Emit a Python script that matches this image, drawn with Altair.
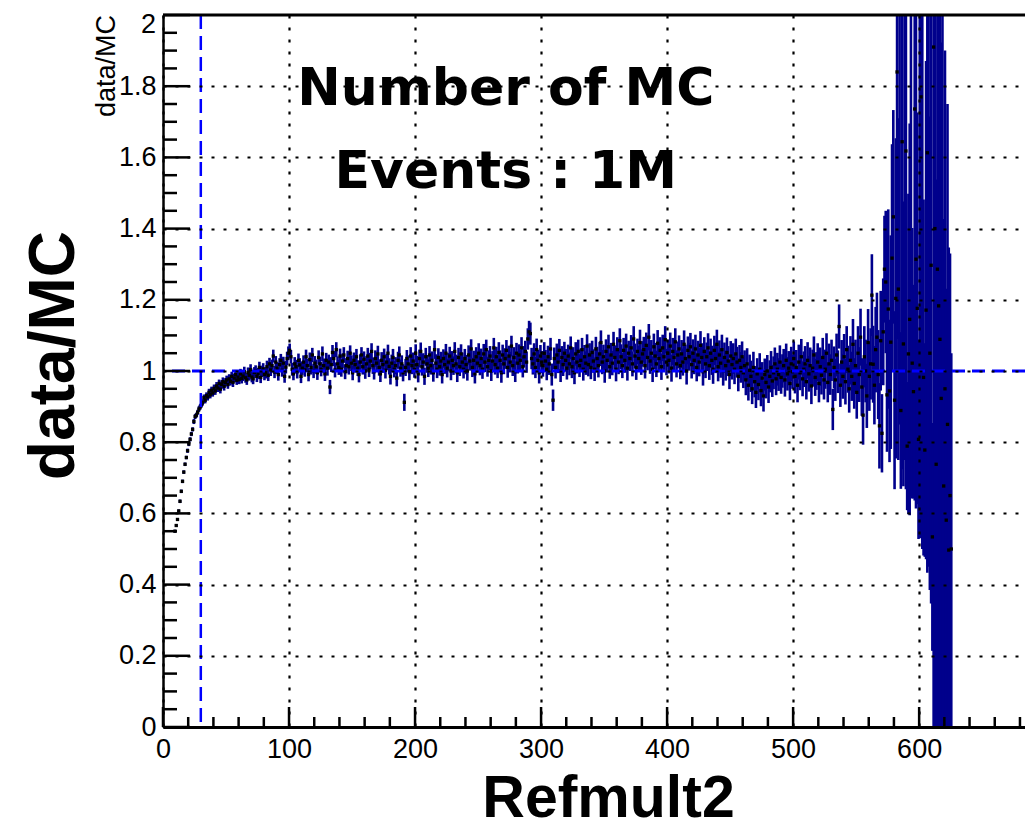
import altair as alt
import pandas as pd

# ---------------- data ----------------
first_bin = 9  # first filled Refmult2 bin (bin width 1)

ratio = [
    # 9-20
    0.550, 0.566, 0.583, 0.607, 0.634, 0.662, 0.690, 0.716, 0.738, 0.757, 0.776, 0.795,
    # 21-30
    0.808, 0.823, 0.836, 0.858, 0.872, 0.876, 0.884, 0.893, 0.899, 0.905,
    # 31-40
    0.912, 0.925, 0.918, 0.931, 0.927, 0.940, 0.933, 0.946, 0.938, 0.951,
    # 41-50
    0.944, 0.958, 0.952, 0.965, 0.949, 0.962, 0.970, 0.957, 0.968, 0.975,
    # 51-60
    0.962, 0.978, 0.971, 0.985, 0.968, 0.980, 0.990, 0.974, 0.983, 0.976,
    # 61-70
    0.992, 0.979, 0.986, 0.998, 0.981, 0.975, 0.995, 0.988, 1.004, 0.983,
    # 71-80
    0.978, 0.996, 1.001, 0.985, 0.993, 1.010, 0.982, 0.999, 1.006, 0.990,
    # 81-90
    0.995, 1.012, 0.988, 1.020, 1.003, 1.015, 1.042, 0.997, 1.025, 1.008,
    # 91-100
    0.990, 1.018, 1.030, 1.002, 1.022, 0.985, 1.011, 1.035, 1.050, 1.058,
    # 101-110
    1.040, 1.005, 0.992, 1.020, 1.012, 0.998, 1.030, 1.017, 0.985, 1.008,
    # 111-120
    1.025, 1.003, 1.040, 1.015, 0.990, 1.032, 1.010, 1.045, 1.000, 1.022,
    # 121-130
    1.012, 0.995, 1.038, 1.020, 1.005, 1.048, 1.015, 0.992, 1.030, 1.008,
    # 131-140
    1.025, 0.955, 1.018, 1.052, 1.035, 1.003, 1.060, 1.020, 1.010, 1.042,
    # 141-150
    1.005, 1.028, 1.045, 0.998, 1.015, 1.035, 1.012, 1.050, 1.022, 0.995,
    # 151-160
    1.030, 1.018, 1.040, 1.008, 0.990, 1.025, 1.045, 1.012, 1.033, 1.000,
    # 161-170
    1.020, 1.042, 1.005, 1.028, 1.055, 1.015, 0.998, 1.035, 1.022, 1.048,
    # 171-180
    1.010, 0.992, 1.030, 1.018, 1.040, 1.002, 1.025, 1.050, 1.013, 0.985,
    # 181-190
    1.022, 1.038, 1.005, 1.015, 0.980, 1.030, 1.045, 1.008, 1.020, 0.995,
    # 191-200
    0.912, 1.010, 1.035, 1.020, 0.998, 1.042, 1.015, 1.028, 1.005, 1.050,
    # 201-210
    1.018, 0.992, 1.035, 1.055, 1.012, 1.025, 0.985, 1.040, 1.020, 1.008,
    # 211-220
    1.045, 1.015, 1.030, 0.995, 1.060, 1.022, 1.005, 1.038, 1.012, 1.028,
    # 221-230
    0.990, 1.035, 1.018, 1.050, 1.008, 1.025, 1.042, 1.000, 1.030, 1.015,
    # 231-240
    1.055, 1.020, 0.995, 1.038, 1.012, 1.048, 1.025, 1.005, 1.035, 1.018,
    # 241-250
    1.000, 1.045, 1.028, 1.062, 1.010, 1.030, 0.992, 1.040, 1.022, 1.050,
    # 251-260
    1.015, 1.035, 1.005, 1.048, 1.025, 1.060, 1.012, 1.030, 1.042, 1.000,
    # 261-270
    1.028, 1.065, 1.018, 1.040, 1.008, 1.052, 1.030, 0.995, 1.045, 1.020,
    # 271-280
    1.035, 1.058, 1.010, 1.042, 1.025, 1.070, 1.015, 1.038, 0.998, 1.050,
    # 281-290
    1.022, 1.045, 1.030, 1.065, 1.012, 1.040, 1.055, 1.025, 1.090, 1.110,
    # 291-300
    1.105, 1.035, 1.020, 1.048, 1.010, 1.060, 1.030, 0.995, 1.042, 1.025,
    # 301-310
    1.015, 1.050, 1.028, 1.005, 1.040, 1.020, 1.062, 0.990, 0.918, 1.035,
    # 311-320
    1.010, 1.045, 1.025, 1.058, 1.000, 1.038, 1.018, 1.050, 1.030, 1.008,
    # 321-330
    1.042, 1.020, 1.065, 1.012, 1.035, 0.995, 1.048, 1.025, 1.055, 1.015,
    # 331-340
    1.030, 1.060, 1.005, 1.040, 1.022, 1.070, 1.018, 1.045, 1.010, 1.052,
    # 341-350
    1.028, 1.005, 1.062, 1.035, 1.015, 1.048, 1.080, 1.025, 1.040, 1.000,
    # 351-360
    1.055, 1.030, 1.068, 1.012, 1.045, 1.022, 1.075, 1.038, 1.005, 1.060,
    # 361-370
    1.025, 1.085, 1.040, 1.015, 1.058, 1.030, 1.070, 1.008, 1.050, 1.035,
    # 371-380
    1.065, 1.020, 1.090, 1.042, 1.010, 1.055, 1.035, 1.080, 1.025, 1.048,
    # 381-390
    1.060, 1.015, 1.072, 1.038, 1.095, 1.028, 1.050, 1.005, 1.068, 1.042,
    # 391-400
    1.020, 1.078, 1.035, 1.058, 1.012, 1.065, 1.040, 1.088, 1.025, 1.050,
    # 401-410
    1.030, 1.070, 1.008, 1.055, 1.038, 1.082, 1.020, 1.045, 1.062, 1.015,
    # 411-420
    1.048, 1.025, 1.075, 1.035, 1.000, 1.058, 1.040, 1.068, 1.018, 1.050,
    # 421-430
    1.030, 1.062, 1.010, 1.045, 1.025, 1.072, 1.038, 0.998, 1.055, 1.020,
    # 431-440
    1.040, 1.065, 1.015, 1.050, 1.030, 1.005, 1.058, 1.035, 1.075, 1.012,
    # 441-450
    1.045, 1.022, 1.060, 1.000, 1.038, 1.015, 1.052, 1.028, 0.990, 1.042,
    # 451-460
    1.018, 1.035, 1.005, 1.048, 1.025, 0.985, 1.030, 1.010, 1.040, 0.995,
    # 461-470
    1.015, 0.975, 1.020, 0.960, 1.002, 0.985, 0.950, 1.010, 0.970, 0.940,
    # 471-480
    0.992, 0.962, 1.005, 0.945, 0.980, 0.930, 0.990, 0.968, 1.000, 0.955,
    # 481-490
    0.985, 1.010, 0.972, 0.995, 1.020, 0.978, 1.005, 0.990, 1.025, 0.982,
    # 491-500
    1.000, 1.015, 0.975, 1.030, 0.992, 1.008, 0.965, 1.020, 0.998, 1.035,
    # 501-510
    0.985, 1.010, 0.960, 1.025, 0.995, 1.040, 0.978, 1.005, 1.020, 0.970,
    # 511-520
    1.030, 0.992, 1.015, 0.958, 1.008, 1.045, 0.982, 1.000, 1.025, 0.965,
    # 521-530
    1.012, 0.988, 1.038, 0.975, 1.005, 1.050, 0.968, 1.020, 0.990, 1.030,
    # 531-540
    0.892, 1.010, 0.975, 1.045, 0.998, 1.125, 0.960, 1.025, 0.985, 1.040,
    # 541-550
    0.970, 1.060, 1.005, 0.950, 1.030, 0.985, 1.075, 0.965, 1.015, 0.940,
    # 551-560
    1.050, 0.990, 1.095, 0.955, 0.876, 1.040, 1.000, 0.930, 1.080, 0.985,
    # 561-570
    1.020, 1.213, 1.019, 0.960, 1.060, 1.095, 0.990, 0.846, 1.085, 0.825,
    # 571-580
    1.110, 1.286, 1.250, 0.933, 1.174, 0.944, 1.081, 1.317, 1.433, 0.918,
    # 581-590
    1.204, 1.840, 1.230, 2.400, 0.889, 1.644, 1.076, 2.300, 1.618, 0.789,
    # 591-600
    1.048, 1.145, 2.350, 1.022, 0.942, 1.736, 1.314, 1.176, 0.808, 2.600,
    # 601-610
    1.770, 2.200, 0.982, 0.778, 1.171, 1.613, 2.450, 1.050, 1.297, 0.534,
    # 611-620
    1.910, 1.400, 0.738, 1.286, 1.183, 1.089, 0.923, 2.500, 0.677, 0.950,
    # 621-625
    0.581, 0.850, 0.497, 0.650, 0.500,
]

ratio_err = [
    # 9-20
    0.004, 0.004, 0.004, 0.004, 0.005, 0.005, 0.005, 0.005, 0.005, 0.005, 0.006, 0.006,
    # 21-30
    0.006, 0.006, 0.006, 0.007, 0.007, 0.007, 0.007, 0.008, 0.008, 0.008,
    # 31-40
    0.009, 0.009, 0.009, 0.009, 0.010, 0.010, 0.010, 0.010, 0.010, 0.011,
    # 41-50
    0.011, 0.011, 0.011, 0.011, 0.012, 0.012, 0.012, 0.012, 0.012, 0.012,
    # 51-60
    0.012, 0.013, 0.012, 0.013, 0.013, 0.013, 0.013, 0.013, 0.014, 0.013,
    # 61-70
    0.014, 0.014, 0.014, 0.014, 0.014, 0.014, 0.015, 0.015, 0.015, 0.015,
    # 71-80
    0.015, 0.015, 0.015, 0.016, 0.016, 0.016, 0.016, 0.016, 0.016, 0.016,
    # 81-90
    0.016, 0.017, 0.016, 0.017, 0.017, 0.017, 0.018, 0.017, 0.017, 0.017,
    # 91-100
    0.017, 0.018, 0.018, 0.018, 0.018, 0.018, 0.018, 0.019, 0.019, 0.019,
    # 101-110
    0.019, 0.018, 0.018, 0.019, 0.019, 0.019, 0.019, 0.019, 0.019, 0.019,
    # 111-120
    0.019, 0.019, 0.020, 0.019, 0.019, 0.020, 0.020, 0.020, 0.020, 0.020,
    # 121-130
    0.020, 0.020, 0.020, 0.020, 0.020, 0.021, 0.020, 0.020, 0.021, 0.021,
    # 131-140
    0.021, 0.020, 0.021, 0.021, 0.021, 0.021, 0.021, 0.021, 0.021, 0.021,
    # 141-150
    0.021, 0.021, 0.022, 0.021, 0.021, 0.022, 0.022, 0.022, 0.022, 0.021,
    # 151-160
    0.022, 0.022, 0.022, 0.022, 0.022, 0.022, 0.022, 0.022, 0.022, 0.022,
    # 161-170
    0.022, 0.023, 0.022, 0.023, 0.023, 0.023, 0.022, 0.023, 0.023, 0.023,
    # 171-180
    0.023, 0.023, 0.023, 0.023, 0.023, 0.023, 0.023, 0.024, 0.023, 0.023,
    # 181-190
    0.024, 0.024, 0.023, 0.024, 0.023, 0.024, 0.024, 0.024, 0.024, 0.024,
    # 191-200
    0.024, 0.024, 0.024, 0.024, 0.024, 0.025, 0.024, 0.024, 0.024, 0.025,
    # 201-210
    0.025, 0.024, 0.025, 0.025, 0.025, 0.025, 0.024, 0.025, 0.025, 0.025,
    # 211-220
    0.025, 0.025, 0.025, 0.025, 0.026, 0.025, 0.025, 0.026, 0.025, 0.026,
    # 221-230
    0.025, 0.026, 0.026, 0.026, 0.026, 0.026, 0.026, 0.026, 0.026, 0.026,
    # 231-240
    0.026, 0.026, 0.026, 0.027, 0.026, 0.027, 0.027, 0.026, 0.027, 0.027,
    # 241-250
    0.027, 0.027, 0.027, 0.027, 0.027, 0.027, 0.027, 0.027, 0.027, 0.028,
    # 251-260
    0.027, 0.028, 0.027, 0.028, 0.028, 0.028, 0.028, 0.028, 0.028, 0.028,
    # 261-270
    0.028, 0.028, 0.028, 0.028, 0.028, 0.029, 0.028, 0.028, 0.029, 0.029,
    # 271-280
    0.029, 0.029, 0.029, 0.029, 0.029, 0.029, 0.029, 0.029, 0.029, 0.029,
    # 281-290
    0.029, 0.030, 0.029, 0.030, 0.030, 0.030, 0.030, 0.030, 0.030, 0.031,
    # 291-300
    0.031, 0.030, 0.030, 0.030, 0.030, 0.031, 0.030, 0.030, 0.031, 0.031,
    # 301-310
    0.031, 0.031, 0.031, 0.031, 0.031, 0.031, 0.031, 0.031, 0.030, 0.031,
    # 311-320
    0.031, 0.032, 0.031, 0.032, 0.031, 0.032, 0.032, 0.032, 0.032, 0.032,
    # 321-330
    0.032, 0.032, 0.032, 0.032, 0.032, 0.032, 0.033, 0.032, 0.033, 0.032,
    # 331-340
    0.033, 0.033, 0.032, 0.033, 0.033, 0.033, 0.033, 0.033, 0.033, 0.033,
    # 341-350
    0.033, 0.033, 0.034, 0.033, 0.033, 0.034, 0.034, 0.034, 0.034, 0.033,
    # 351-360
    0.034, 0.034, 0.034, 0.034, 0.034, 0.034, 0.035, 0.034, 0.034, 0.035,
    # 361-370
    0.034, 0.035, 0.035, 0.035, 0.035, 0.035, 0.035, 0.035, 0.035, 0.035,
    # 371-380
    0.036, 0.035, 0.036, 0.035, 0.035, 0.036, 0.036, 0.036, 0.036, 0.036,
    # 381-390
    0.036, 0.036, 0.036, 0.036, 0.037, 0.036, 0.037, 0.036, 0.037, 0.037,
    # 391-400
    0.037, 0.037, 0.037, 0.037, 0.037, 0.037, 0.037, 0.038, 0.037, 0.038,
    # 401-410
    0.037, 0.038, 0.038, 0.038, 0.038, 0.038, 0.038, 0.038, 0.038, 0.038,
    # 411-420
    0.039, 0.038, 0.039, 0.039, 0.038, 0.039, 0.039, 0.039, 0.039, 0.039,
    # 421-430
    0.039, 0.040, 0.039, 0.040, 0.040, 0.040, 0.040, 0.039, 0.040, 0.040,
    # 431-440
    0.040, 0.041, 0.040, 0.041, 0.041, 0.041, 0.041, 0.041, 0.041, 0.041,
    # 441-450
    0.041, 0.041, 0.042, 0.041, 0.042, 0.042, 0.042, 0.042, 0.041, 0.042,
    # 451-460
    0.042, 0.043, 0.042, 0.043, 0.043, 0.042, 0.043, 0.043, 0.043, 0.043,
    # 461-470
    0.043, 0.043, 0.044, 0.043, 0.044, 0.044, 0.043, 0.044, 0.044, 0.044,
    # 471-480
    0.044, 0.044, 0.045, 0.044, 0.045, 0.044, 0.045, 0.045, 0.045, 0.045,
    # 481-490
    0.045, 0.046, 0.045, 0.046, 0.046, 0.046, 0.046, 0.046, 0.047, 0.046,
    # 491-500
    0.047, 0.047, 0.047, 0.047, 0.047, 0.048, 0.047, 0.048, 0.048, 0.048,
    # 501-510
    0.048, 0.049, 0.048, 0.049, 0.049, 0.050, 0.049, 0.050, 0.050, 0.050,
    # 511-520
    0.051, 0.050, 0.051, 0.051, 0.052, 0.052, 0.052, 0.053, 0.053, 0.053,
    # 521-530
    0.054, 0.054, 0.055, 0.055, 0.055, 0.056, 0.056, 0.057, 0.057, 0.058,
    # 531-540
    0.058, 0.059, 0.059, 0.060, 0.060, 0.062, 0.061, 0.062, 0.063, 0.064,
    # 541-550
    0.064, 0.066, 0.066, 0.067, 0.068, 0.069, 0.071, 0.071, 0.073, 0.074,
    # 551-560
    0.076, 0.077, 0.080, 0.081, 0.083, 0.086, 0.088, 0.090, 0.094, 0.097,
    # 561-570
    0.100, 0.115, 0.108, 0.110, 0.120, 0.125, 0.125, 0.120, 0.140, 0.110,
    # 571-580
    0.150, 0.150, 0.200, 0.160, 0.280, 0.200, 0.300, 0.320, 0.300, 0.250,
    # 581-590
    0.450, 0.750, 0.480, 1.550, 0.220, 0.920, 0.400, 1.550, 0.950, 0.180,
    # 591-600
    0.450, 0.550, 1.700, 0.380, 0.300, 1.100, 0.700, 0.550, 0.280, 2.070,
    # 601-610
    1.200, 1.700, 0.500, 0.300, 0.700, 1.180, 2.000, 0.665, 0.950, 0.320,
    # 611-620
    1.950, 1.500, 0.800, 1.400, 1.300, 1.200, 1.000, 2.600, 0.750, 0.950,
    # 621-625
    0.650, 0.900, 0.850, 0.680, 0.550,
]

x_major = [0, 100, 200, 300, 400, 500, 600]
x_minor = [20, 40, 60, 80, 120, 140, 160, 180, 220, 240, 260, 280, 320, 340, 360, 380,
           420, 440, 460, 480, 520, 540, 560, 580, 620, 640, 660, 680]
y_major = [0, 0.2, 0.4, 0.6, 0.8, 1.0, 1.2, 1.4, 1.6, 1.8, 2.0]
y_labelled = [0, 0.2, 0.4, 0.6, 0.8, 1.0, 1.2, 1.4, 1.6, 1.8]   # "2" is drawn just under the top edge
y_top_label = [2]
y_minor = [0.05, 0.1, 0.15, 0.25, 0.3, 0.35, 0.45, 0.5, 0.55, 0.65, 0.7, 0.75,
           0.85, 0.9, 0.95, 1.05, 1.1, 1.15, 1.25, 1.3, 1.35, 1.45, 1.5, 1.55,
           1.65, 1.7, 1.75, 1.85, 1.9, 1.95]

cut_x = [30]      # vertical blue dashed line
ref_y = [1.0]     # horizontal blue dashed line

note_lines = ["Number of MC", "Events : 1M"]
note_x = [272, 272]
note_y = [1.747, 1.514]

x_title = "Refmult2"
y_title = "data/MC"

# ---------------- build ----------------
W, H = 862, 712
FONT = "Liberation Sans"

n = min(len(ratio), len(ratio_err))
df = pd.DataFrame({
    "x": [first_bin + i + 0.5 for i in range(n)],
    "r": ratio[:n],
    "lo": [ratio[i] - ratio_err[i] for i in range(n)],
    "hi": [ratio[i] + ratio_err[i] for i in range(n)],
})

xs = alt.Scale(domain=[0, 684], nice=False, zero=False)
ys = alt.Scale(domain=[0, 2], nice=False, zero=False)

x_axis = alt.Axis(
    values=x_major, labelExpr="format(datum.value, 'd')", ticks=False,
    domain=True, domainColor="black", domainWidth=3,
    grid=True, gridColor="black", gridDash=[3, 9], gridWidth=2.2, gridOpacity=1,
    labelFont=FONT, labelFontSize=27, labelColor="black", labelPadding=9,
    labelFlush=False, labelOverlap=False,
    titleFont=FONT, titleFontSize=59, titleFontWeight="bold", titleColor="black",
    titleX=445, titleY=89, titleAlign="center", titleBaseline="alphabetic",
    zindex=1,
)
y_axis = alt.Axis(
    values=y_labelled, labelExpr="format(datum.value, '.1~f')", ticks=False,
    domain=True, domainColor="black", domainWidth=2.5,
    grid=True, gridColor="black", gridDash=[3, 9], gridWidth=2.2, gridOpacity=1,
    labelFont=FONT, labelFontSize=27, labelColor="black", labelPadding=7,
    labelOverlap=False, labelFlush=False,
    titleFont=FONT, titleFontSize=64, titleFontWeight="bold", titleColor="black",
    titleX=-90, titleY=340, titleAngle=270, titleAlign="center", titleBaseline="alphabetic",
    zindex=1,
)


def X(f):
    return alt.X(f, type="quantitative", scale=xs, axis=x_axis, title=x_title)


def Y(f):
    return alt.Y(f, type="quantitative", scale=ys, axis=y_axis, title=y_title)


errbars = alt.Chart(df).mark_rule(color="#00008c", strokeWidth=2.6, clip=True).encode(
    x=X("x"), y=Y("lo"), y2="hi"
)
points = alt.Chart(df).mark_square(color="black", size=11, opacity=1, clip=True).encode(
    x=X("x"), y=Y("r")
)

vline = alt.Chart(pd.DataFrame({"x": cut_x})).mark_rule(
    color="#0000ff", strokeWidth=2.5, strokeDash=[14, 7]
).encode(x=X("x"))
hline = alt.Chart(pd.DataFrame({"y": ref_y})).mark_rule(
    color="#0000ff", strokeWidth=2.8, strokeDash=[13, 7]
).encode(y=Y("y"))

ytick_major = alt.Chart(pd.DataFrame({"v": y_major})).mark_rule(color="black", strokeWidth=2.5).encode(
    y=Y("v"), x=alt.value(0), x2=alt.value(27)
)
ytick_minor = alt.Chart(pd.DataFrame({"v": y_minor})).mark_rule(color="black", strokeWidth=2.5).encode(
    y=Y("v"), x=alt.value(0), x2=alt.value(14)
)
xtick_major = alt.Chart(pd.DataFrame({"v": x_major})).mark_rule(color="black", strokeWidth=2.5).encode(
    x=X("v"), y=alt.value(H), y2=alt.value(H - 20)
)
xtick_minor = alt.Chart(pd.DataFrame({"v": x_minor})).mark_rule(color="black", strokeWidth=2.5).encode(
    x=X("v"), y=alt.value(H), y2=alt.value(H - 10)
)

top_frame = alt.Chart(pd.DataFrame({"k": [0]})).mark_rule(color="black", strokeWidth=3).encode(
    x=alt.value(0), x2=alt.value(W), y=alt.value(0)
)

top_label = alt.Chart(pd.DataFrame({"v": y_top_label})).mark_text(
    font=FONT, fontSize=27, color="black", align="right", baseline="top", dy=-3
).encode(x=alt.value(-7), y=Y("v"), text="v:N")

notes = alt.Chart(pd.DataFrame({"t": note_lines, "x": note_x, "y": note_y})).mark_text(
    font="DejaVu Sans", fontSize=52, fontWeight="bold", color="black",
    align="center", baseline="alphabetic"
).encode(x=X("x"), y=Y("y"), text="t:N")

small_title = alt.Chart(pd.DataFrame({"t": [y_title]})).mark_text(
    font=FONT, fontSize=27, color="black", angle=270, align="right", baseline="alphabetic"
).encode(x=alt.value(-48), y=alt.value(0), text="t:N")

chart = alt.layer(
    errbars, points, vline, hline,
    ytick_major, ytick_minor, xtick_major, xtick_minor, top_frame,
    top_label, notes, small_title,
).properties(
    width=W, height=H,
    autosize=alt.AutoSizeParams(type="none"),
    padding={"left": 155, "top": 7, "right": 0, "bottom": 103},
    background="white",
).configure_view(stroke=None)

chart.save("out.html", embed_options={"renderer": "svg", "actions": False})
